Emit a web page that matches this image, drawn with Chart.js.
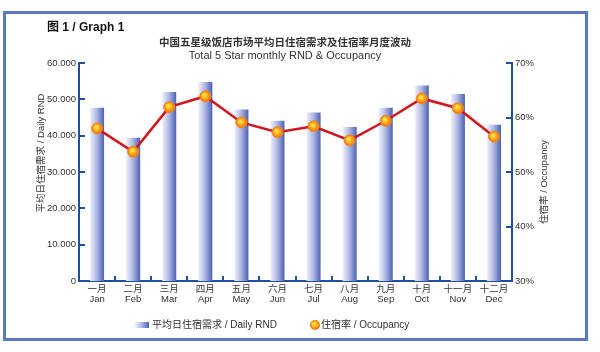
<!DOCTYPE html>
<html>
<head>
<meta charset="utf-8">
<script src="https://cdn.jsdelivr.net/npm/chart.js@4.4.1/dist/chart.umd.min.js"></script>
<style>
  html, body { margin: 0; padding: 0; background: #fff; }
  canvas { display: block; }
</style>
</head>
<body>
<canvas id="chart" width="600" height="352"></canvas>
<script>
// Data
const monthsCn = ["一月", "二月", "三月", "四月", "五月", "六月", "七月", "八月", "九月", "十月", "十一月", "十二月"]
const monthsEn = ["Jan", "Feb", "Mar", "Apr", "May", "Jun", "Jul", "Aug", "Sep", "Oct", "Nov", "Dec"]
const dailyRnd = [47700, 39400, 52000, 54800, 47200, 44100, 46400, 42400, 47700, 53800, 51500, 43000]
const occupancy = [58.0, 53.7, 61.9, 63.9, 59.1, 57.3, 58.4, 55.8, 59.4, 63.5, 61.7, 56.5]
const rndTicks = [0, 10000, 20000, 30000, 40000, 50000, 60000]
const occTicks = [30, 40, 50, 60, 70]

const FONT = '"Liberation Sans", Arial, "Noto Sans CJK SC", sans-serif'
const axisBlue = "#1f4f9e"
const textColor = "#333333"
const BAR_PCT = 0.39

const ok = (...vals) => vals.every((v) => Number.isFinite(v))

const barFill = (ctx, x0, x1) => {
  const g = ctx.createLinearGradient(x0, 0, x1, 0)
  g.addColorStop(0, "#f0f1fb")
  g.addColorStop(0.45, "#b3bbe5")
  g.addColorStop(1, "#4d60b3")
  return g
}

const dotFill = (ctx, x, y, r) => {
  const g = ctx.createRadialGradient(x - r * 0.25, y - r * 0.3, 0, x, y, r)
  g.addColorStop(0, "#fff26a")
  g.addColorStop(0.45, "#ffc020")
  g.addColorStop(1, "#f06a10")
  return g
}

// frame, headings, axis titles, inward ticks and legend
const decorations = {
  id: "decorations",
  beforeDraw(chart) {
    const ctx = chart.ctx
    ctx.save()
    ctx.fillStyle = "#fff"
    ctx.fillRect(0, 0, chart.width, chart.height)
    ctx.strokeStyle = "#5a78c6"
    ctx.lineWidth = 3
    ctx.strokeRect(4.5, 12.5, 582, 327)
    ctx.restore()
  },
  afterDraw(chart) {
    const ctx = chart.ctx
    const { x, y, y1 } = chart.scales
    const area = chart.chartArea
    ctx.save()

    // inward tick marks
    ctx.strokeStyle = axisBlue
    ctx.lineWidth = 2
    ctx.beginPath()
    rndTicks.slice(1).forEach((v) => {
      const py = Math.round(y.getPixelForValue(v))
      ctx.moveTo(area.left, py)
      ctx.lineTo(area.left + 6, py)
    })
    occTicks.slice(1).forEach((v) => {
      const py = Math.round(y1.getPixelForValue(v))
      ctx.moveTo(area.right, py)
      ctx.lineTo(area.right - 6, py)
    })
    const half = x.width / monthsEn.length / 2
    for (let i = 0; i < monthsEn.length - 1; i++) {
      const px = Math.round(x.getPixelForValue(i) + half)
      ctx.moveTo(px, area.bottom)
      ctx.lineTo(px, area.bottom - 5)
    }
    ctx.stroke()

    // headings
    ctx.fillStyle = "#111"
    ctx.textBaseline = "middle"
    ctx.textAlign = "left"
    ctx.font = "bold 12px " + FONT
    ctx.fillText("图 1 / Graph 1", 47, 28)
    ctx.fillStyle = textColor
    ctx.textAlign = "center"
    ctx.font = "bold 10.5px " + FONT
    ctx.fillText("中国五星级饭店市场平均日住宿需求及住宿率月度波动", 285, 43)
    ctx.font = "11px " + FONT
    ctx.fillText("Total 5 Star monthly RND & Occupancy", 285, 56)

    // axis titles
    ctx.font = "9.5px " + FONT
    ctx.save()
    ctx.translate(41, 153)
    ctx.rotate(-Math.PI / 2)
    ctx.fillText("平均日住宿需求 / Daily RND", 0, 0)
    ctx.restore()
    ctx.save()
    ctx.translate(544, 182)
    ctx.rotate(-Math.PI / 2)
    ctx.fillText("住宿率 / Occupancy", 0, 0)
    ctx.restore()

    // legend
    ctx.fillStyle = barFill(ctx, 135, 149)
    ctx.fillRect(135, 322, 14, 6)
    ctx.beginPath()
    ctx.arc(315, 325, 5, 0, Math.PI * 2)
    ctx.fillStyle = dotFill(ctx, 315, 325, 5)
    ctx.fill()
    ctx.fillStyle = textColor
    ctx.textAlign = "left"
    ctx.font = "10px " + FONT
    ctx.fillText("平均日住宿需求 / Daily RND", 152, 325)
    ctx.fillText("住宿率 / Occupancy", 321, 325)
    ctx.restore()
  },
}

new Chart(document.getElementById("chart"), {
  type: "bar",
  data: {
    labels: monthsCn.map((m, i) => [m, monthsEn[i]]),
    datasets: [
      {
        type: "line",
        label: "住宿率 / Occupancy",
        data: occupancy,
        yAxisID: "y1",
        order: 1,
        borderColor: "#d3161c",
        borderWidth: 2.5,
        tension: 0,
        pointRadius: 5.5,
        pointBorderWidth: 1,
        pointBorderColor: "#f08a20",
        pointBackgroundColor: (c) => {
          const sx = c.chart.scales.x
          const sy = c.chart.scales.y1
          if (!sx || !sy || c.dataIndex === undefined) return "#ffa020"
          const px = sx.getPixelForValue(c.dataIndex)
          const py = sy.getPixelForValue(occupancy[c.dataIndex])
          if (!ok(px, py)) return "#ffa020"
          return dotFill(c.chart.ctx, px, py, 5.5)
        },
      },
      {
        label: "平均日住宿需求 / Daily RND",
        data: dailyRnd,
        yAxisID: "y",
        order: 2,
        barPercentage: BAR_PCT,
        categoryPercentage: 1,
        backgroundColor: (c) => {
          const sx = c.chart.scales.x
          if (!sx || c.dataIndex === undefined) return "#8090d0"
          const px = sx.getPixelForValue(c.dataIndex)
          const w = (sx.width / monthsEn.length) * BAR_PCT
          if (!ok(px, w)) return "#8090d0"
          return barFill(c.chart.ctx, px - w / 2, px + w / 2)
        },
      },
    ],
  },
  options: {
    responsive: false,
    animation: false,
    layout: { padding: { left: 0, right: 0, top: 63, bottom: 43 } },
    plugins: {
      legend: { display: false },
      title: { display: false },
      tooltip: { enabled: false },
    },
    scales: {
      x: {
        grid: { display: false, drawTicks: false },
        border: { color: axisBlue, width: 2 },
        ticks: { color: textColor, font: { family: FONT, size: 9.5, lineHeight: 1.1 }, padding: 3, maxRotation: 0, autoSkip: false },
        afterFit: (s) => { s.height = 28 },
      },
      y: {
        position: "left",
        min: 0,
        max: 60000,
        grid: { display: false, drawTicks: false },
        border: { color: axisBlue, width: 2 },
        ticks: {
          stepSize: 10000,
          color: textColor,
          padding: 3,
          font: { family: FONT, size: 9.5 },
          callback: (v) => (v === 0 ? "0" : (v / 1000).toFixed(0) + ".000"),
        },
        afterFit: (s) => { s.width = 79 },
      },
      y1: {
        position: "right",
        min: 30,
        max: 70,
        grid: { display: false, drawTicks: false },
        border: { color: axisBlue, width: 2 },
        ticks: {
          stepSize: 10,
          color: textColor,
          padding: 3,
          font: { family: FONT, size: 9.5 },
          callback: (v) => v + "%",
        },
        afterFit: (s) => { s.width = 88 },
      },
    },
  },
  plugins: [decorations],
})
</script>
</body>
</html>
